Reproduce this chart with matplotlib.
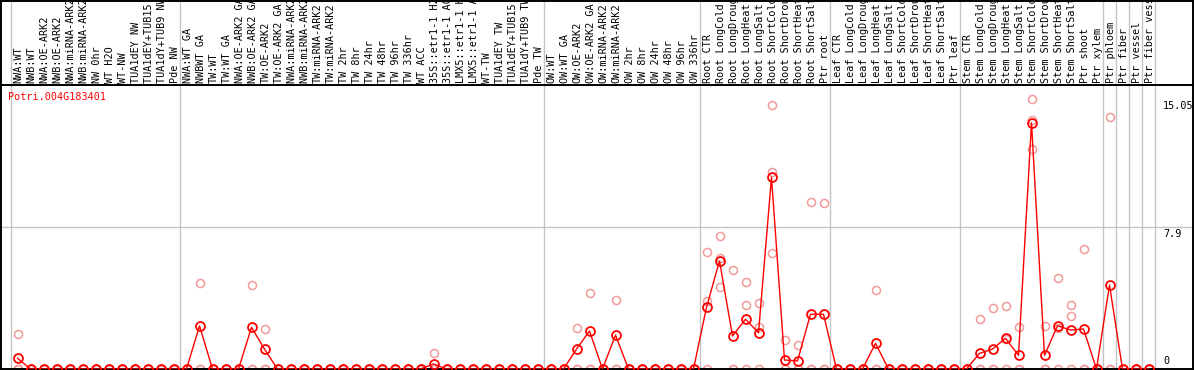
import numpy as np
import matplotlib
matplotlib.use("Agg")
import matplotlib.pyplot as plt
import matplotlib.transforms as mtransforms

gene = "Potri.004G183401"

# sample labels, one list per group (gray separators sit between groups)
grp_nw = ["NWA:WT", "NWB:WT", "NWA:OE-ARK2", "NWB:OE-ARK2", "NWA:miRNA-ARK2", "NWB:miRNA-ARK2",
          "NW 0hr", "WT H2O", "WT-NW", "TUA1dEY NW", "TUA1dEY+TUB15 NW", "TUA1dY+TUB9 NW", "Pde NW"]
grp_tw = ["NWA:WT GA", "NWBWT GA", "TW:WT", "TW:WT GA", "NWA:OE-ARK2 GA", "NWB:OE-ARK2 GA",
          "TW:OE-ARK2", "TW:OE-ARK2 GA", "NWA:miRNA-ARK2 GA", "NWB:miRNA-ARK2 GA", "TW:miRNA-ARK2",
          "TW:miRNA-ARK2", "TW 2hr", "TW 8hr", "TW 24hr", "TW 48hr", "TW 96hr", "TW 336hr", "WT ACC",
          "35S::etr1-1 H2O", "35S::etr1-1 ACC", "LMX5::etr1-1 H2O", "LMX5::etr1-1 ACC", "WT-TW",
          "TUA1dEY TW", "TUA1dEY+TUB15 TW", "TUA1dY+TUB9 TW", "Pde TW"]
grp_ow = ["OW:WT", "OW:WT GA", "OW:OE-ARK2", "OW:OE-ARK2 GA", "OW:miRNA-ARK2", "OW:miRNA-ARK2",
          "OW 2hr", "OW 8hr", "OW 24hr", "OW 48hr", "OW 96hr", "OW 336hr"]
grp_root = ["Root CTR", "Root LongCold", "Root LongDrought", "Root LongHeat", "Root LongSalt",
            "Root ShortCold", "Root ShortDrought", "Root ShortHeat", "Root ShortSalt", "Ptr root"]
grp_leaf = ["Leaf CTR", "Leaf LongCold", "Leaf LongDrought", "Leaf LongHeat", "Leaf LongSalt",
            "Leaf ShortCold", "Leaf ShortDrought", "Leaf ShortHeat", "Leaf ShortSalt", "Ptr leaf"]
grp_stem = ["Stem CTR", "Stem LongCold", "Stem LongDrought", "Stem LongHeat", "Stem LongSalt",
            "Stem ShortCold", "Stem ShortDrought", "Stem ShortHeat", "Stem ShortSalt", "Ptr shoot", "Ptr xylem"]
groups = [grp_nw, grp_tw, grp_ow, grp_root, grp_leaf, grp_stem,
          ["Ptr phloem"], ["Ptr fiber"], ["Ptr vessel"], ["Ptr fiber vessel"]]

# mean expression per sample
mean_nw = [0.60, 0, 0, 0, 0, 0, 0, 0, 0, 0, 0, 0, 0]
mean_tw = [0, 2.40, 0, 0, 0, 2.32, 1.11, 0, 0, 0, 0, 0, 0, 0, 0, 0, 0, 0, 0,
           0.28, 0, 0, 0, 0, 0, 0, 0, 0]
mean_ow = [0, 0, 1.11, 2.12, 0, 1.89, 0, 0, 0, 0, 0, 0]
mean_root = [3.44, 6.02, 1.84, 2.77, 2.02, 10.68, 0.50, 0.45, 3.05, 3.05]
mean_leaf = [0, 0, 0, 1.43, 0, 0, 0, 0, 0, 0]
mean_stem = [0, 0.87, 1.11, 1.71, 0.76, 13.72, 0.76, 2.41, 2.17, 2.23, 0]
mean_tis = [4.68, 0, 0, 0]

# replicates (pale circles)
rep1 = ([1.95] + [0] * 12
        + [0, 4.79, 0, 0, 0, 4.66, 2.21] + [0] * 12 + [0.87] + [0] * 8
        + [0, 0, 2.27, 4.22, 0, 3.83] + [0] * 6
        + [6.50, 7.41, 5.50, 4.83, 3.69, 14.71, 1.62, 1.32, 9.29, 9.23]
        + [0, 0, 0, 4.40, 0, 0, 0, 0, 0, 0]
        + [0, 2.79, 3.42, 3.49, 2.34, 15.05, 2.38, 5.05, 3.55, 6.67, 0]
        + [14.02, 0, 0, 0])
rep2 = ([0] * 53
        + [3.79, 6.20, 0, 3.55, 2.36, 10.97, 0, 0, 0, 0]
        + [0] * 10
        + [0, 0, 0, 1.65, 0, 12.24, 0, 2.27, 2.94, 0, 0]
        + [0, 0, 0, 0])
rep3 = ([0] * 53
        + [0, 4.55, 0, 0, 0, 6.46, 0, 0, 0, 0]
        + [0] * 10
        + [0, 0, 0, 0, 0, 13.87, 0, 0, 0, 0, 0]
        + [0, 0, 0, 0])

ytick_vals = [15.05, 7.9, 0]

labels = [s for g in groups for s in g]
means = mean_nw + mean_tw + mean_ow + mean_root + mean_leaf + mean_stem + mean_tis
x = np.arange(len(labels))
bounds = np.cumsum([0] + [len(g) for g in groups]) - 0.5

W, H = 1194, 370
fig = plt.figure(figsize=(W / 100, H / 100), dpi=100)
mono = "DejaVu Sans Mono"
fs = 7.3
red = "#ff0000"
pale = "#f09a9a"
grid = "#c4c4c4"

xmin = -0.5 - 10 / 13
xmax = -0.5 + (1193 - 11) / 13
ytop = (369 - 85) / 17.95

ax = fig.add_axes([1 / W, 1 / H, 1192 / W, 284 / H])
lax = fig.add_axes([1 / W, 285 / H, 1192 / W, 84.5 / H])

for a in (ax, lax):
    a.set_xlim(xmin, xmax)
    a.set_xticks([])
    a.set_yticks([])
    for sp in a.spines.values():
        sp.set_color("black")
        sp.set_linewidth(1.4)
    for b in bounds:
        a.axvline(b, color=grid, lw=1.0, zorder=0)

ax.set_ylim(0, ytop)
ax.axhline(7.9, color=grid, lw=1.0, zorder=0)

# replicate circles
for r in (rep1, rep2, rep3):
    ax.plot(x, r, ls="none", marker="o", ms=5.8, mfc="none", mec=pale, mew=1.1, zorder=2)

# mean line
ax.plot(x, means, color=red, lw=1.0, marker="o", ms=6.4, mfc="none", mec=red, mew=1.3, zorder=3)

ax.text(7 / 1192, (369 - 97) / 284, gene, transform=ax.transAxes, color=red,
        fontsize=fs, family=mono, ha="left", va="center")

trans = mtransforms.blended_transform_factory(ax.transAxes, ax.transData)
xr = (1163 - 1) / 1192
for v in ytick_vals:
    if v == 0:
        ax.text(xr, 0.15, "0", transform=trans, fontsize=fs, family=mono, ha="left", va="bottom")
    else:
        ax.text(xr, v - 0.12, f"{v:g}", transform=trans, fontsize=fs, family=mono, ha="left", va="top")

# rotated sample labels, clipped at the top of the strip like the original
lax.set_ylim(0, 1)
for i, s in enumerate(labels):
    t = lax.text(i + 0.1, 0.02, s, rotation=90, fontsize=fs, family=mono,
                 ha="center", va="bottom")
    t.set_clip_on(True)

fig.savefig("out.png", dpi=100)
